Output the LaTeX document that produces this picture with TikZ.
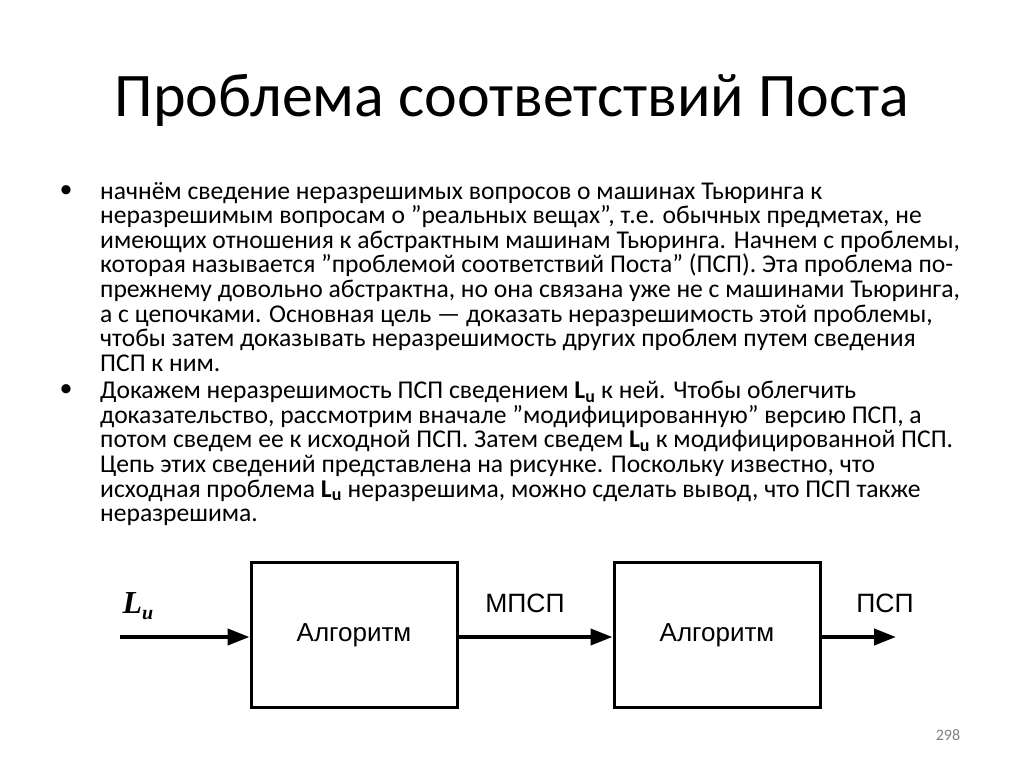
\documentclass[tikz,border=0pt]{standalone}
\usepackage{fontspec}
\setmainfont{Carlito}
\newfontfamily\diag{Liberation Sans}
\newfontfamily\lufont{Liberation Serif}
\newcommand\qd{\char34{}}
\usetikzlibrary{arrows.meta}
\begin{document}
\begin{tikzpicture}[x=1pt,y=-1pt,
  body/.style={anchor=north west,align=left,inner sep=0pt,font=\fontsize{25.6}{24.6}\selectfont},
  blk/.style={draw,line width=3pt,minimum width=206pt,minimum height=145pt,font=\diag\fontsize{26}{28}\selectfont},
  arr/.style={line width=4pt,-{Triangle[length=22pt,width=16pt]}},
  lbl/.style={font=\diag\fontsize{26.5}{28}\selectfont}]
\useasboundingbox (0,0) rectangle (1024,767);
\node (title) at (512,100) {\fontsize{62}{70}\selectfont Проблема соответствий Поста};
\node (b1) at (66,192) {\fontsize{26}{28}\selectfont •};
\node[body] (t1) at (100,182) {начнём сведение неразрешимых вопросов о машинах Тьюринга к\\
неразрешимым вопросам о \qd реальных вещах\qd, т.е. обычных предметах, не\\
имеющих отношения к абстрактным машинам Тьюринга. Начнем с проблемы,\\
которая называется \qd проблемой соответствий Поста\qd{} (ПСП). Эта проблема по-\\
прежнему довольно абстрактна, но она связана уже не с машинами Тьюринга,\\
а с цепочками. Основная цель — доказать неразрешимость этой проблемы,\\
чтобы затем доказывать неразрешимость других проблем путем сведения\\
ПСП к ним.};
\node (b2) at (66,391) {\fontsize{26}{28}\selectfont •};
\node[body] (t2) at (100,381) {Докажем неразрешимость ПСП сведением $\mathbf{L}_{\mathbf{u}}$ к ней. Чтобы облегчить\\
доказательство, рассмотрим вначале \qd модифицированную\qd{} версию ПСП, а\\
потом сведем ее к исходной ПСП. Затем сведем $\mathbf{L}_{\mathbf{u}}$ к модифицированной ПСП.\\
Цепь этих сведений представлена на рисунке. Поскольку известно, что\\
исходная проблема $\mathbf{L}_{\mathbf{u}}$ неразрешима, можно сделать вывод, что ПСП также\\
неразрешима.};
\node[blk] (a1) at (354,635) {Алгоритм};
\node[blk] (a2) at (717,635) {Алгоритм};
\coordinate (in) at (120,637);
\coordinate (out) at (896,637);
\draw[arr] (in) -- (a1.west|-in);
\draw[arr] (a1.east|-in) -- (a2.west|-in);
\draw[arr] (a2.east|-in) -- (out);
\node (lu) at (138,606) {\lufont\bfseries\itshape\fontsize{32}{34}\selectfont L\raisebox{-6pt}{\fontsize{20}{22}\selectfont u}};
\node[lbl] (m) at (525,603) {МПСП};
\node[lbl] (p) at (885,603) {ПСП};
\node (n) at (948,735) {\fontsize{16}{18}\selectfont\color{gray}298};
\end{tikzpicture}
\end{document}
